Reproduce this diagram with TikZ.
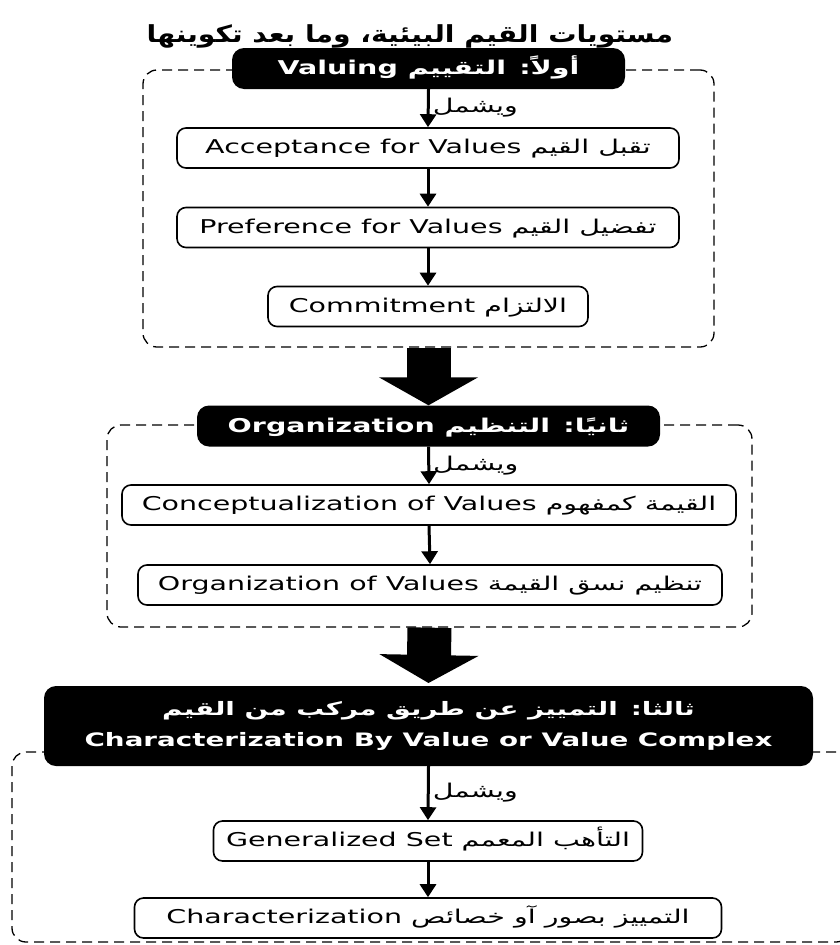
\documentclass[tikz,border=0pt]{standalone}
\usepackage{fontspec}
\usetikzlibrary{arrows.meta,positioning}
\setmainfont{DejaVu Sans}[FakeStretch=1.5]
\newfontfamily\arfont[Script=Arabic,FakeStretch=1.5]{DejaVu Sans}
\newfontfamily\titlefont[Script=Arabic,FakeStretch=1.2]{DejaVu Sans}
\TeXXeTstate=1
\newcommand{\ar}[1]{{\arfont\beginR #1\endR}}

\begin{document}
\begin{tikzpicture}[x=1pt,y=-1pt,
        box/.style={draw, line width=1.6pt, rounded corners=9pt, minimum height=40pt,
            inner sep=0pt, text height=13pt, text depth=2pt, font=\fontsize{19}{22}\selectfont},
        head/.style={fill=black, text=white, rounded corners=12pt, minimum height=41pt,
            inner sep=0pt, text height=14pt, text depth=2pt, font=\bfseries\fontsize{19}{24}\selectfont},
        frame/.style={draw, dash pattern=on 10pt off 6pt, line width=1.3pt, rounded corners=14pt,
            inner sep=0pt},
        link/.style={line width=3pt, -{Triangle[width=16pt,length=13pt]}},
        bigarrow/.style={line width=44pt, -{Triangle[width=98pt,length=28pt]}},
        incl/.style={right, pos=0.48, inner sep=3pt, text height=13pt, text depth=2pt,
            font=\fontsize{19}{22}\selectfont}
    ]
    \useasboundingbox (0,0) rectangle (840,945);

    % 标题
    \node[text height=16pt, text depth=4pt] (title) at (410,36)
        {\bfseries\fontsize{23.5}{28}\selectfont\titlefont\beginR مستويات القيم البيئية، وما بعد تكوينها\endR};

    % 第一层: Valuing
    \node[frame, minimum width=571pt, minimum height=277pt] (f1) at (428.5,208.5) {};
    \node[head, minimum width=393pt] (h1) at (428.5,68.5) {Valuing \ar{أولاً: التقييم}};
    \node[box, minimum width=502pt] (acc) at (428,148) {Acceptance for Values \ar{تقبل القيم}};
    \node[box, minimum width=502pt] (pref) at (428,227.5) {Preference for Values \ar{تفضيل القيم}};
    \node[box, minimum width=320pt] (com) at (428,306.5) {Commitment \ar{الالتزام}};

    \draw[link] (h1.south) -- node[incl] {\ar{ويشمل}} (acc.north);
    \draw[link] (acc.south) -- (pref.north);
    \draw[link] (pref.south) -- (com.north);

    % 第二层: Organization
    \node[frame, minimum width=645pt, minimum height=202pt] (f2) at (429.5,526) {};
    \node[head, minimum width=463pt] (h2) at (428.5,426) {Organization \ar{ثانيًا: التنظيم}};
    \node[box, minimum width=614pt] (conc) at (429,505) {Conceptualization of Values \ar{القيمة كمفهوم}};
    \node[box, minimum width=584pt] (orgv) at (430,585) {Organization of Values \ar{تنظيم نسق القيمة}};

    \draw[link] (h2.south) -- node[incl] {\ar{ويشمل}} (conc.north);
    \draw[link] (conc.south) -- (orgv.north);

    % 层间粗箭头
    \draw[bigarrow] (f1.south) -- (h2.north);
    \draw[bigarrow] (f2.south) -- (h2.north |- 0,683);

    % 第三层: Characterization
    \node[frame, minimum width=838pt, minimum height=190pt] (f3) at (431,847) {};
    \node[head, minimum width=769pt, minimum height=80pt, align=center, text height=, text depth=,
        font=\bfseries\fontsize{18.5}{31}\selectfont] (h3) at (428.5,726)
        {\ar{ثالثا: التمييز عن طريق مركب من القيم}\\Characterization By Value or Value Complex};
    \node[box, minimum width=429pt] (gen) at (428,841) {Generalized Set \ar{التأهب المعمم}};
    \node[box, minimum width=587pt] (char) at (428,918) {Characterization \ar{التمييز بصور آو خصائص}};

    \draw[link] (h3.south) -- node[incl] {\ar{ويشمل}} (gen.north);
    \draw[link] (gen.south) -- (char.north);

\end{tikzpicture}
\end{document}
